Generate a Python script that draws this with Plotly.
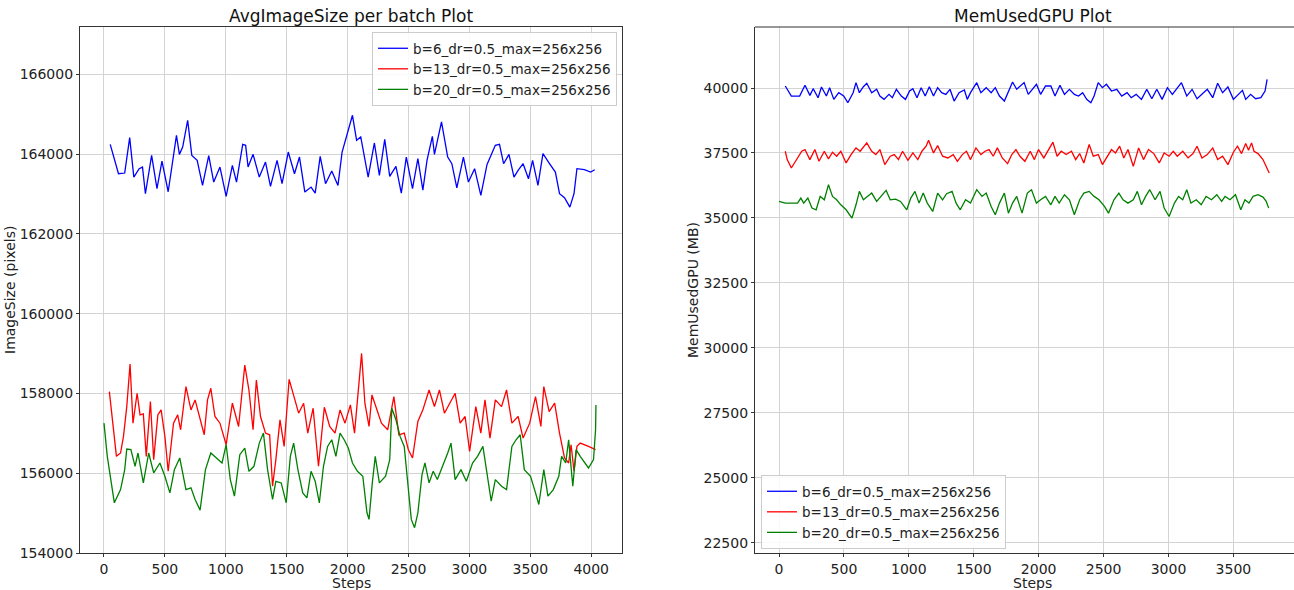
import plotly.graph_objects as go

# ---------------- Data ----------------
series_names = ["b=6_dr=0.5_max=256x256", "b=13_dr=0.5_max=256x256", "b=20_dr=0.5_max=256x256"]
series_colors = ["#0000ff", "#ff0000", "#008000"]

# Left: AvgImageSize per batch
img_b6_steps = [51, 119, 170, 211, 245, 289, 316, 340, 391, 435, 476, 527, 595, 619, 646, 687, 721, 765, 809, 860,
                901, 952, 1003, 1054, 1088, 1139, 1163, 1183, 1224, 1275, 1326, 1367, 1421, 1462, 1513, 1564, 1605,
                1649, 1700, 1734, 1775, 1819, 1870, 1921, 1955, 1999, 2040, 2074, 2108, 2169, 2220, 2261, 2305, 2346,
                2397, 2441, 2482, 2533, 2577, 2618, 2652, 2696, 2713, 2771, 2822, 2856, 2897, 2951, 2992, 3043, 3094,
                3145, 3213, 3247, 3281, 3325, 3366, 3400, 3441, 3485, 3519, 3563, 3604, 3655, 3706, 3740, 3781, 3825,
                3859, 3883, 3944, 3995, 4029]
img_b6_vals = [164242, 163506, 163523, 164410, 163422, 163632, 163673, 163004, 163966, 163130, 163824, 163054, 164468,
               163991, 164175, 164845, 163966, 163841, 163213, 163958, 163297, 163673, 162937, 163715, 163297, 164242,
               164217, 163673, 163991, 163422, 163799, 163188, 163841, 163255, 164050, 163506, 163924, 163046, 163171,
               163020, 163941, 163255, 163573, 163213, 164050, 164510, 164970, 164343, 164427, 163422, 164276, 163464,
               164368, 163439, 163690, 163020, 163924, 163130, 163883, 163096, 163841, 164443, 163991, 164803, 163924,
               163757, 163154, 163924, 163297, 163632, 162962, 163740, 164217, 164242, 163757, 163991, 163422, 163590,
               163757, 163380, 163841, 163213, 164008, 163774, 163548, 163004, 162903, 162669, 163004, 163632, 163606,
               163548, 163606]

img_b13_steps = [44, 102, 136, 160, 187, 214, 238, 272, 296, 323, 347, 381, 408, 442, 469, 500, 527, 571, 605, 629,
                 673, 714, 748, 782, 823, 850, 877, 911, 952, 1003, 1054, 1105, 1156, 1190, 1224, 1251, 1285, 1326,
                 1360, 1384, 1411, 1445, 1479, 1520, 1564, 1598, 1639, 1673, 1717, 1761, 1809, 1853, 1897, 1938, 1979,
                 2023, 2057, 2115, 2142, 2176, 2200, 2244, 2278, 2329, 2380, 2421, 2465, 2499, 2533, 2577, 2618, 2669,
                 2713, 2754, 2795, 2839, 2883, 2924, 2965, 3002, 3053, 3094, 3128, 3169, 3213, 3264, 3305, 3349, 3400,
                 3441, 3495, 3543, 3587, 3611, 3655, 3700, 3740, 3781, 3815, 3835, 3859, 3883, 3910, 3978, 4036]
img_b13_vals = [158045, 156422, 156506, 156922, 157670, 158735, 157254, 158003, 157462, 157487, 156422, 157795, 156339,
                157462, 157587, 156922, 156048, 157254, 157462, 157088, 158170, 157587, 157837, 157421, 156963, 157837,
                158128, 157421, 157254, 156714, 157754, 157171, 158710, 158086, 157088, 158336, 157421, 157005, 156963,
                155674, 156339, 157338, 156672, 158353, 157837, 157504, 157754, 157005, 157629, 156173, 157654, 157171,
                157005, 157587, 157254, 157712, 157005, 159002, 157754, 157171, 157962, 157587, 157254, 157088, 157920,
                156963, 157005, 156589, 156381, 157296, 157587, 158086, 157670, 158086, 157504, 157754, 158003, 157254,
                157421, 156547, 157670, 157005, 157837, 156880, 157837, 157670, 158086, 157254, 157421, 156880, 157254,
                157920, 157171, 158170, 157545, 157754, 157005, 156381, 156256, 156714, 156048, 156672, 156755, 156672,
                156589]

img_b20_steps = [0, 27, 85, 136, 170, 187, 221, 255, 279, 323, 367, 408, 459, 500, 541, 578, 622, 673, 714, 748, 789,
                 833, 877, 925, 969, 1003, 1037, 1071, 1115, 1156, 1190, 1231, 1275, 1309, 1343, 1384, 1411, 1455,
                 1496, 1530, 1557, 1592, 1632, 1666, 1700, 1734, 1768, 1802, 1836, 1870, 1904, 1938, 1972, 2006, 2040,
                 2081, 2125, 2159, 2176, 2203, 2227, 2261, 2312, 2346, 2363, 2397, 2431, 2465, 2499, 2523, 2550, 2577,
                 2611, 2635, 2669, 2703, 2737, 2771, 2822, 2849, 2883, 2931, 2975, 3026, 3067, 3111, 3145, 3179, 3213,
                 3264, 3305, 3349, 3383, 3417, 3451, 3502, 3543, 3570, 3611, 3645, 3689, 3734, 3757, 3791, 3815, 3849,
                 3876, 3910, 3978, 4019, 4036, 4039]
img_b20_vals = [157254, 156422, 155258, 155590, 156090, 156605, 156589, 156173, 156506, 155757, 156506, 156006, 156256,
                155923, 155507, 156090, 156381, 155590, 155632, 155341, 155075, 156090, 156506, 156381, 156256, 156714,
                155840, 155424, 156464, 156630, 156048, 156173, 156755, 157005, 156090, 155341, 155798, 155757, 155258,
                156422, 156755, 156090, 155507, 155382, 156048, 155798, 155258, 156173, 156672, 156838, 156422, 157005,
                156838, 156630, 156256, 156048, 155923, 155008, 154842, 155757, 156422, 155757, 155923, 156339, 157629,
                157338, 156922, 156672, 155674, 154842, 154634, 155008, 155965, 156256, 155757, 156048, 155840, 156090,
                156506, 156755, 155840, 156090, 155798, 156256, 156422, 156672, 155923, 155299, 155840, 155674, 155590,
                156672, 156838, 156963, 156090, 155923, 155507, 155216, 156090, 155424, 155590, 155923, 156422, 156256,
                156838, 155674, 156589, 156422, 156131, 156339, 157088, 157712]

# Right: MemUsedGPU
mem_b6_steps = [48, 95, 159, 200, 238, 263, 301, 327, 365, 390, 422, 460, 498, 530, 571, 593, 619, 650, 676, 714, 752,
                777, 809, 847, 873, 904, 942, 974, 1006, 1031, 1063, 1095, 1126, 1158, 1190, 1222, 1253, 1285, 1317,
                1349, 1387, 1428, 1450, 1475, 1523, 1555, 1596, 1634, 1666, 1698, 1736, 1777, 1799, 1831, 1856, 1888,
                1920, 1951, 1983, 2015, 2053, 2094, 2126, 2164, 2199, 2237, 2275, 2307, 2339, 2370, 2402, 2427, 2459,
                2491, 2522, 2561, 2602, 2640, 2681, 2713, 2751, 2792, 2833, 2872, 2910, 2951, 2992, 3030, 3068, 3100,
                3141, 3182, 3220, 3258, 3299, 3341, 3379, 3417, 3458, 3500, 3538, 3570, 3595, 3633, 3671, 3712, 3744,
                3760]
mem_b6_vals = [40077, 39691, 39691, 40103, 39717, 39974, 39627, 40039, 39691, 40013, 39562, 39820, 39691, 39434, 39820,
               40206, 39820, 40051, 40180, 39820, 39949, 39691, 39562, 39755, 39627, 39949, 39691, 39562, 39884, 39974,
               39627, 40013, 39691, 40051, 39691, 40013, 39820, 39755, 39949, 39498, 39820, 39923, 39562, 39820, 40206,
               39820, 40013, 39820, 40013, 39691, 39498, 40013, 40232, 39949, 40077, 40206, 39755, 39949, 40142, 39755,
               40077, 40077, 39691, 40103, 39755, 39949, 39755, 39691, 39820, 39562, 39434, 39691, 40206, 40013, 40142,
               39884, 39949, 39691, 39820, 39627, 39755, 39562, 39949, 39588, 39949, 39562, 40013, 39755, 40013, 40206,
               39691, 39949, 39588, 39755, 39949, 39627, 40180, 39820, 40039, 39562, 39755, 39910, 39562, 39755, 39588,
               39627, 39884, 40335]

mem_b13_steps = [48, 63, 95, 127, 175, 200, 238, 276, 308, 349, 381, 412, 444, 476, 517, 555, 593, 625, 676, 714, 746,
                 777, 815, 857, 888, 920, 952, 993, 1031, 1069, 1101, 1133, 1152, 1190, 1222, 1260, 1301, 1342, 1374,
                 1412, 1444, 1475, 1517, 1555, 1587, 1618, 1650, 1682, 1720, 1761, 1793, 1825, 1856, 1894, 1935, 1967,
                 1999, 2040, 2078, 2110, 2142, 2174, 2212, 2253, 2285, 2316, 2348, 2389, 2421, 2459, 2491, 2522, 2561,
                 2592, 2624, 2656, 2688, 2729, 2770, 2808, 2846, 2887, 2929, 2967, 3005, 3037, 3068, 3110, 3151, 3189,
                 3220, 3258, 3299, 3341, 3379, 3417, 3458, 3500, 3532, 3563, 3595, 3617, 3640, 3659, 3690, 3728, 3760,
                 3776]
mem_b13_vals = [37568, 37246, 36924, 37181, 37568, 37632, 37246, 37632, 37181, 37568, 37272, 37529, 37375, 37568,
                37117, 37439, 37696, 37568, 37889, 37568, 37439, 37632, 37053, 37375, 37439, 37246, 37568, 37220, 37503,
                37246, 37568, 37761, 37992, 37503, 37786, 37375, 37310, 37439, 37181, 37439, 37568, 37246, 37696, 37439,
                37568, 37632, 37375, 37696, 37310, 37092, 37439, 37632, 37375, 37181, 37568, 37246, 37632, 37310, 37632,
                37915, 37375, 37568, 37439, 37568, 37246, 37478, 37117, 37825, 37375, 37439, 37053, 37310, 37632, 37503,
                37761, 37310, 37632, 36988, 37696, 37246, 37632, 37478, 37117, 37503, 37375, 37568, 37375, 37568, 37310,
                37478, 37761, 37310, 37439, 37696, 37246, 37375, 37053, 37529, 37761, 37478, 37864, 37606, 37889, 37568,
                37478, 37246, 36924, 36731]

mem_b20_steps = [0, 48, 143, 168, 190, 222, 254, 286, 317, 349, 381, 412, 444, 476, 517, 562, 593, 619, 650, 682, 714,
                 752, 784, 825, 857, 898, 936, 984, 1015, 1047, 1079, 1111, 1142, 1184, 1222, 1260, 1291, 1333, 1364,
                 1396, 1437, 1475, 1523, 1564, 1596, 1634, 1666, 1698, 1736, 1767, 1799, 1831, 1872, 1913, 1945, 1983,
                 2015, 2053, 2094, 2126, 2158, 2199, 2237, 2275, 2316, 2348, 2389, 2427, 2465, 2507, 2538, 2580, 2618,
                 2650, 2688, 2729, 2760, 2792, 2824, 2856, 2897, 2935, 2967, 3005, 3046, 3078, 3110, 3141, 3173, 3214,
                 3252, 3290, 3331, 3372, 3410, 3436, 3474, 3516, 3557, 3589, 3620, 3652, 3690, 3728, 3753, 3772]
mem_b20_vals = [35637, 35573, 35573, 35766, 35573, 35766, 35380, 35315, 35830, 35701, 36281, 35830, 35701, 35508,
                35315, 34994, 35508, 36023, 35701, 35830, 35959, 35637, 35830, 36062, 35701, 35727, 35637, 35315, 35766,
                36023, 35573, 35959, 35573, 35251, 35959, 35701, 35933, 36023, 35573, 35315, 35701, 35573, 36088, 35830,
                35959, 35444, 35122, 35573, 35959, 35186, 35573, 35830, 35186, 35959, 36088, 35573, 35701, 35830, 35508,
                35830, 35573, 35895, 35701, 35122, 35701, 35959, 36023, 35830, 35701, 35444, 35186, 35701, 35959, 35701,
                35573, 35701, 36023, 35508, 35830, 36088, 35701, 36023, 35380, 35058, 35573, 35830, 35701, 36088, 35573,
                35701, 35508, 35830, 35701, 35895, 35637, 35830, 35701, 35895, 35315, 35701, 35573, 35830, 35895, 35804,
                35637, 35380]

left_titles = ("AvgImageSize per batch Plot", "ImageSize (pixels)", "Steps")
right_titles = ("MemUsedGPU Plot", "MemUsedGPU (MB)", "Steps")
left_yticks = [154000, 156000, 158000, 160000, 162000, 164000, 166000]
right_yticks = [22500, 25000, 27500, 30000, 32500, 35000, 37500, 40000]
left_xticks = [0, 500, 1000, 1500, 2000, 2500, 3000, 3500, 4000]
right_xticks = [0, 500, 1000, 1500, 2000, 2500, 3000, 3500]

# ---------------- Figure ----------------
W, H = 1294, 590
ML, MR, MT, MB = 0, 0, 27, 37
PW, PH = W - ML - MR, H - MT - MB
FONT = "DejaVu Sans"
AX = "#333333"
GRID = "#d3d3d3"
FS = 14

def px(x):
    return (x - ML) / PW

def py(y):
    return (H - MB - y) / PH

fig = go.Figure()

left_data = [(img_b6_steps, img_b6_vals), (img_b13_steps, img_b13_vals), (img_b20_steps, img_b20_vals)]
right_data = [(mem_b6_steps, mem_b6_vals), (mem_b13_steps, mem_b13_vals), (mem_b20_steps, mem_b20_vals)]

for (xs, ys), name, col in zip(left_data, series_names, series_colors):
    fig.add_trace(go.Scatter(x=xs, y=ys, mode="lines", name=name, line=dict(color=col, width=1.3),
                             xaxis="x", yaxis="y", legend="legend"))
for (xs, ys), name, col in zip(right_data, series_names, series_colors):
    fig.add_trace(go.Scatter(x=xs, y=ys, mode="lines", name=name, line=dict(color=col, width=1.3),
                             xaxis="x2", yaxis="y2", legend="legend2"))

axis_common = dict(showgrid=True, gridcolor=GRID, gridwidth=1, zeroline=False, showline=True,
                   linecolor=AX, linewidth=1.2, ticks="outside", ticklen=3, tickcolor=AX, tickformat="d",
                   tickfont=dict(family=FONT, size=FS, color="#222"), automargin=False)

L0, L1 = 80, 622
R0, R1 = 755, 1294

legend_common = dict(bgcolor="rgba(255,255,255,0.85)", bordercolor="#cccccc", borderwidth=1,
                     font=dict(family=FONT, size=13.5, color="#222"), tracegroupgap=0, itemwidth=30)

fig.update_layout(
    width=W, height=H,
    margin=dict(l=ML, r=MR, t=MT, b=MB, pad=0),
    paper_bgcolor="white", plot_bgcolor="white",
    font=dict(family=FONT, size=FS, color="#222"),
    xaxis=dict(domain=[px(L0), px(L1)], range=[-197, 4253], tickvals=left_xticks, anchor="y",
               mirror=True, **axis_common),
    yaxis=dict(domain=[0, 1], range=[154000, 167183], tickvals=left_yticks, anchor="x",
               mirror=True, **axis_common),
    xaxis2=dict(domain=[px(R0), px(R1)], range=[-185, 3967], tickvals=right_xticks, anchor="y2",
                **axis_common),
    yaxis2=dict(domain=[0, 1], range=[22115, 42346], tickvals=right_yticks, anchor="x2",
                **axis_common),
    legend=dict(x=px(617), y=py(32), xanchor="right", yanchor="top", **legend_common),
    legend2=dict(x=px(761), y=py(549), xanchor="left", yanchor="bottom", **legend_common),
    showlegend=True,
)

# top spine for right panel (its right spine falls outside the picture)
fig.add_shape(type="line", xref="paper", yref="paper", x0=px(R0), x1=1, y0=1, y1=1,
              line=dict(color=AX, width=1.2))

ann = []
for (title, ylab, xlab), (a, b), ylab_x in [(left_titles, (L0, L1), 10), (right_titles, (R0, R1 + 16), 693)]:
    cx = px((a + b) / 2)
    ann.append(dict(text=title, x=cx, y=py(16), xref="paper", yref="paper", showarrow=False,
                    xanchor="center", yanchor="middle", font=dict(family=FONT, size=17, color="#111")))
    ann.append(dict(text=xlab, x=cx, y=py(583), xref="paper", yref="paper", showarrow=False,
                    xanchor="center", yanchor="middle", font=dict(family=FONT, size=FS, color="#222")))
    ann.append(dict(text=ylab, x=px(ylab_x), y=py(290), xref="paper", yref="paper", showarrow=False,
                    textangle=-90, xanchor="center", yanchor="middle", font=dict(family=FONT, size=FS, color="#222")))
fig.update_layout(annotations=ann)

fig.write_html("out.html", config={"displayModeBar": False})
